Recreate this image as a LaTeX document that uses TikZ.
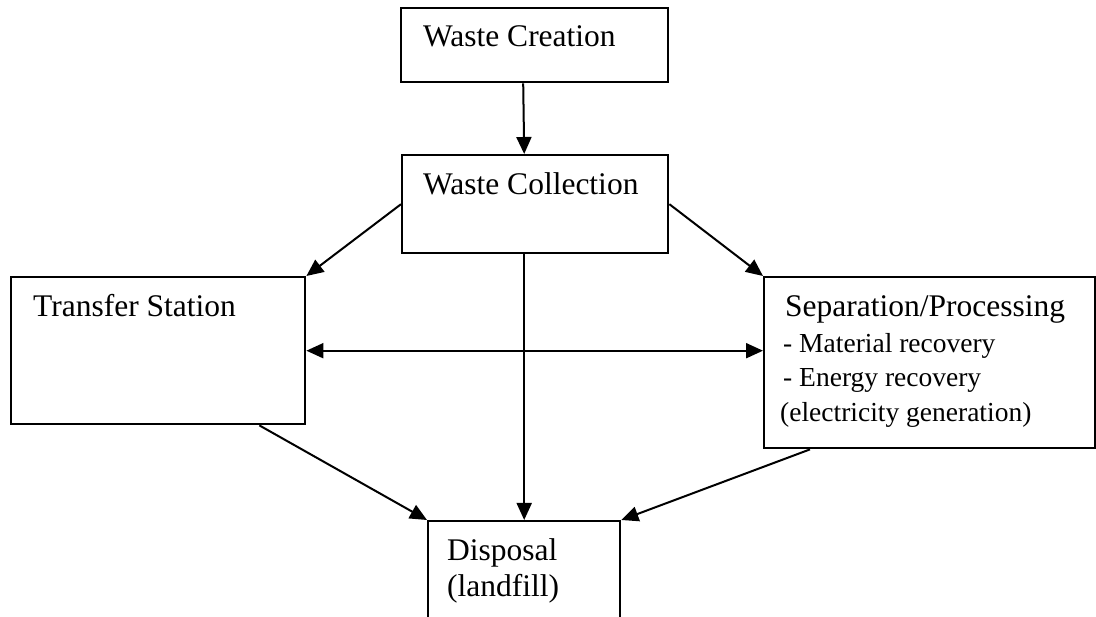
\documentclass[tikz,border=0pt]{standalone}
\usepackage{fontspec}
\setmainfont{Liberation Serif}
\usetikzlibrary{arrows.meta,calc}
\tikzset{
  box/.style={draw, line width=2.4pt, anchor=north west, inner sep=0pt, fill=white},
  lbl/.style={anchor=base west, inner sep=0pt, font=\fontsize{31.5}{38}\selectfont},
  sml/.style={anchor=base west, inner sep=0pt, font=\fontsize{27.5}{33}\selectfont},
  conn/.style={line width=2pt, -{Triangle[length=17pt,width=15pt]}},
  bconn/.style={line width=2pt, {Triangle[length=17pt,width=15pt]}-{Triangle[length=17pt,width=15pt]}}
}
\begin{document}
\begin{tikzpicture}[x=1pt,y=-1pt]
\useasboundingbox (0,0) rectangle (1096,617);
% boxes
\node[box, minimum width=267pt, minimum height=74pt] (creation) at (400,7) {};
\node[box, minimum width=266pt, minimum height=98pt] (collection) at (401,154) {};
\node[box, minimum width=294pt, minimum height=147pt] (transfer) at (10,276) {};
\node[box, minimum width=331pt, minimum height=171pt] (sep) at (763,276) {};
\node[box, minimum width=192pt, minimum height=100pt] (disposal) at (427,520) {};
% texts
\node[lbl] (tcreation) at (423,47) {Waste Creation};
\node[lbl] (tcollection) at (423,195) {Waste Collection};
\node[lbl] (ttransfer) at (33,317) {Transfer Station};
\node[lbl] (tsep) at (785,317) {Separation/Processing};
\node[sml] (tsep1) at (783,353) {- Material recovery};
\node[sml] (tsep2) at (783,387) {- Energy recovery};
\node[sml] (tsep3) at (780,422) {(electricity generation)};
\node[lbl] (tdisp1) at (447,561) {Disposal};
\node[lbl] (tdisp2) at (447,597) {(landfill)};
% connectors
\draw[conn] ([xshift=-11.5pt]creation.south) -- ([xshift=-11pt]collection.north);
\draw[conn] (collection.west) -- (transfer.north east);
\draw[conn] (collection.east) -- (sep.north west);
\draw[conn] (collection.south -| disposal.north) -- (disposal.north);
\draw[bconn] (transfer.east) -- (transfer.east -| sep.west);
\draw[conn] ([xshift=-47pt]transfer.south east) -- (disposal.north west);
\draw[conn] ([xshift=47pt]sep.south west) -- (disposal.north east);
\end{tikzpicture}
\end{document}
